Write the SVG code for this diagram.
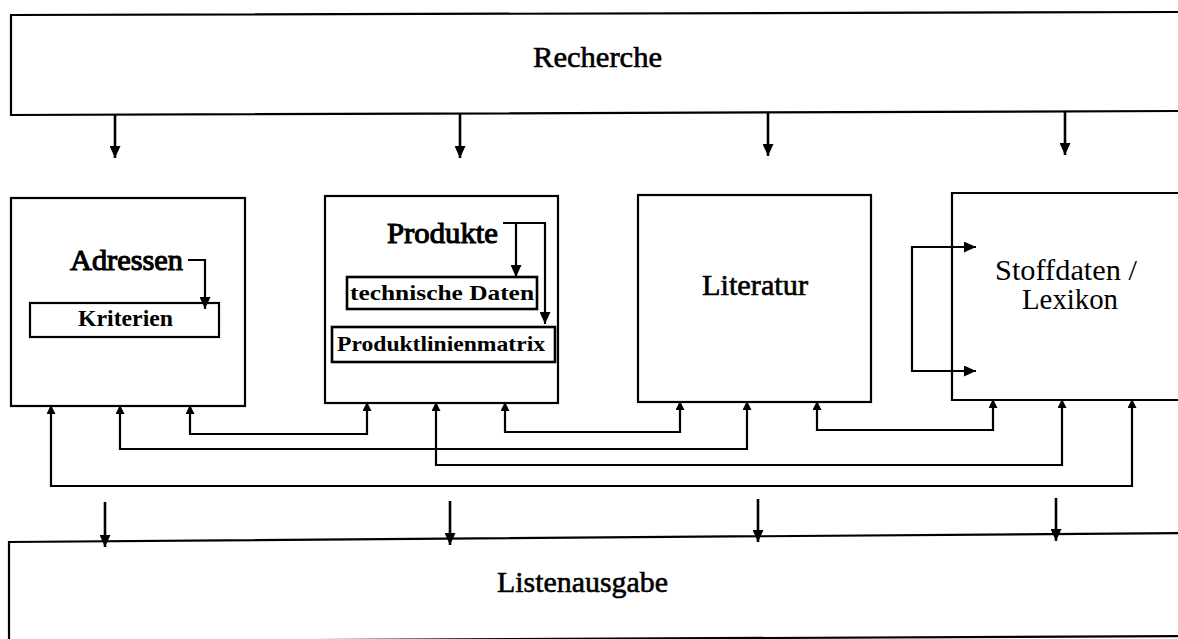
<svg xmlns="http://www.w3.org/2000/svg" width="1178" height="639" viewBox="0 0 1178 639">
<style>
.box{fill:none;stroke:#000;stroke-width:2.2}
.sub{fill:none;stroke:#000;stroke-width:2.6}
.t{font-family:"Liberation Serif","Times New Roman",serif;fill:#000}
.m{font-size:30px;stroke:#000;stroke-width:0.6}
.h{stroke-width:1.1}
.b{font-weight:bold}
.c{fill:none;stroke:#000;stroke-width:2.2}
.a{fill:none;stroke:#000;stroke-width:2.6}
</style>
<defs>
<marker id="big" viewBox="0 0 12 11" refX="12" refY="5.5" markerWidth="12" markerHeight="11" markerUnits="userSpaceOnUse" orient="auto"><path d="M0,0 L12,5.5 L0,11 Z" fill="#000"/></marker>
<marker id="sm" viewBox="0 0 9 9" refX="8" refY="4.5" markerWidth="9" markerHeight="9" markerUnits="userSpaceOnUse" orient="auto-start-reverse"><path d="M0,0 L9,4.5 L0,9 Z" fill="#000"/></marker>
</defs>
<rect width="1178" height="639" fill="#fff"/>
<g id="recherche">
<path class="box" d="M1185,12 L11,15 V115 L1185,111"/>
<text class="t m" x="533" y="67" textLength="129" lengthAdjust="spacingAndGlyphs">Recherche</text>
</g>
<g id="adressen">
<rect class="box" x="11" y="198" width="234" height="208"/>
<text class="t m h" x="70" y="270" textLength="113" lengthAdjust="spacingAndGlyphs">Adressen</text>
<rect class="box" x="30" y="303" width="189" height="34"/>
<text class="t b" x="78" y="326" font-size="23" textLength="95" lengthAdjust="spacingAndGlyphs">Kriterien</text>
</g>
<g id="produkte">
<rect class="box" x="325" y="196" width="233" height="207"/>
<text class="t m h" x="387" y="243" textLength="111" lengthAdjust="spacingAndGlyphs">Produkte</text>
<rect class="sub" x="347" y="277" width="190" height="32"/>
<text class="t b" x="350" y="300" font-size="21" textLength="184" lengthAdjust="spacingAndGlyphs">technische Daten</text>
<rect class="sub" x="332" y="327" width="223" height="35"/>
<text class="t b" x="337" y="351" font-size="21" textLength="208" lengthAdjust="spacingAndGlyphs">Produktlinienmatrix</text>
</g>
<g id="literatur">
<rect class="box" x="638" y="195" width="233" height="207"/>
<text class="t m" x="702" y="295" textLength="106" lengthAdjust="spacingAndGlyphs">Literatur</text>
</g>
<g id="stoffdaten">
<path class="box" d="M1185,193 H952 V400 H1185"/>
<text class="t" x="995" y="280" font-size="29" textLength="142" lengthAdjust="spacingAndGlyphs">Stoffdaten /</text>
<text class="t" x="1022" y="309" font-size="29" textLength="96" lengthAdjust="spacingAndGlyphs">Lexikon</text>
</g>
<g id="listenausgabe">
<path class="box" d="M9,650 V542 L1185,533"/>
<path class="box" d="M9,641.5 L1185,636"/>
<text class="t m" x="497" y="592" textLength="171" lengthAdjust="spacingAndGlyphs">Listenausgabe</text>
</g>
<g id="connectors">
<path class="a" marker-end="url(#big)" d="M115,115 V158"/>
<path class="a" marker-end="url(#big)" d="M460,114 V158"/>
<path class="a" marker-end="url(#big)" d="M768,113 V156"/>
<path class="a" marker-end="url(#big)" d="M1065,112 V155"/>
<path class="c" marker-end="url(#big)" d="M188,260 H205 V309"/>
<path class="c" marker-end="url(#big)" d="M503,223 H545 V324"/>
<path class="c" marker-end="url(#big)" d="M516,223 V277"/>
<path class="c" marker-end="url(#big)" d="M912,309 V247 H976"/>
<path class="c" marker-end="url(#big)" d="M912,309 V371 H976"/>
<path class="c" marker-start="url(#sm)" marker-end="url(#sm)" d="M190,406 V434 H367 V403"/>
<path class="c" marker-start="url(#sm)" marker-end="url(#sm)" d="M120,406 V449 H747 V402"/>
<path class="c" marker-start="url(#sm)" marker-end="url(#sm)" d="M505,403 V432 H680 V402"/>
<path class="c" marker-start="url(#sm)" marker-end="url(#sm)" d="M436,403 V465 H1062 V400"/>
<path class="c" marker-start="url(#sm)" marker-end="url(#sm)" d="M817,402 V430 H993 V400"/>
<path class="c" marker-start="url(#sm)" marker-end="url(#sm)" d="M51,406 V486 H1132 V400"/>
<path class="a" marker-end="url(#big)" d="M105,502 V547"/>
<path class="a" marker-end="url(#big)" d="M450,501 V545"/>
<path class="a" marker-end="url(#big)" d="M758,499 V542"/>
<path class="a" marker-end="url(#big)" d="M1056,498 V541"/>
</g>
</svg>
